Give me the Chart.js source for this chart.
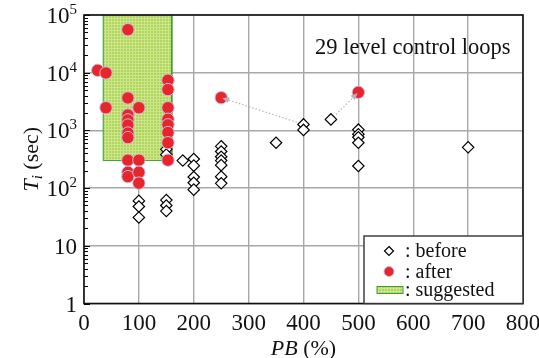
<!DOCTYPE html>
<html><head><meta charset="utf-8">
<script src="https://cdn.jsdelivr.net/npm/chart.js@4/dist/chart.umd.min.js"></script>
<style>html,body{margin:0;padding:0;background:#fff}#c{display:block}</style>
</head><body>
<canvas id="c" width="539" height="358"></canvas>
<script>
// ---- data (PB in %, Ti in sec) ----
const beforePB = [100,100,100, 150,150,150,150,150, 180, 200,200,200,200,200, 250,250,250,250,250,250,250, 350, 400,400, 450, 500,500,500,500,500, 700];
const beforeTi = [60,48,31, 470,380,62,50,40, 300, 320,245,156,124,94, 530,430,350,300,250,158,121, 612, 1270,1020, 1550, 1030,860,760,612,242, 509];
const afterPB = [25,40,40, 80,80,80,80,80,80,80,80,80,80, 100,100,100,100, 153,153,153,153,153,153,153,153, 250, 500];
const afterTi = [11000,9900,2470, 55600,3650,1850,1520,1240,900,750,305,188,158, 2470,305,188,122, 7400,5100,2470,1560,1250,920,612,305, 3690, 4570];
const link1PB = [400, 250];
const link1Ti = [1270, 3690];
const link2PB = [450, 500];
const link2Ti = [1550, 4570];
const suggestedPB = [35, 35, 160, 160, 35];
const suggestedTi = [300, 100000, 100000, 300, 300];
const xTicks = [0,100,200,300,400,500,600,700,800];
const yTicks = [1,10,100,1000,10000,100000];
const yBase = ['1','10','10','10','10','10'];
const ySup = ['','','2','3','4','5'];
const legendLabels = [': before', ': after', ': suggested'];
const noteText = '29 level control loops';

const SERIF = '"Liberation Serif","Times New Roman",serif';
const pts = (xs, ys) => xs.map((x, i) => ({x: x, y: ys[i]}));

function makePattern() {
  const c = document.createElement('canvas');
  c.width = 3; c.height = 3;
  const g = c.getContext('2d');
  g.fillStyle = 'rgba(168,209,72,0.9)';
  g.fillRect(0, 0, 3, 3);
  g.fillStyle = 'rgba(205,230,145,0.92)';
  g.fillRect(0, 0, 3, 1);
  g.fillRect(0, 0, 1, 3);
  return g.createPattern(c, 'repeat');
}
const greenPattern = makePattern();

function drawDiamond(ctx, x, y, r) {
  ctx.beginPath();
  ctx.moveTo(x, y - r); ctx.lineTo(x + r, y); ctx.lineTo(x, y + r); ctx.lineTo(x - r, y); ctx.closePath();
  ctx.fillStyle = '#fff'; ctx.fill();
  ctx.lineWidth = 1.2; ctx.strokeStyle = '#000'; ctx.stroke();
}

const decor = {
  id: 'decor',
  afterDatasetsDraw(chart) {
    const ctx = chart.ctx, xs = chart.scales.x, ys = chart.scales.y;
    [[link1PB, link1Ti], [link2PB, link2Ti]].forEach(([px, py]) => {
      const x0 = xs.getPixelForValue(px[0]), y0 = ys.getPixelForValue(py[0]);
      const x1 = xs.getPixelForValue(px[1]), y1 = ys.getPixelForValue(py[1]);
      const a = Math.atan2(y1 - y0, x1 - x0);
      const tx = x1 - Math.cos(a) * 1, ty = y1 - Math.sin(a) * 1;
      ctx.save();
      ctx.fillStyle = '#b5b5b5';
      ctx.beginPath();
      ctx.moveTo(tx, ty);
      ctx.lineTo(tx - Math.cos(a) * 7 + Math.sin(a) * 3, ty - Math.sin(a) * 7 - Math.cos(a) * 3);
      ctx.lineTo(tx - Math.cos(a) * 7 - Math.sin(a) * 3, ty - Math.sin(a) * 7 + Math.cos(a) * 3);
      ctx.closePath(); ctx.fill();
      ctx.restore();
    });
  },
  afterDraw(chart) {
    const ctx = chart.ctx, a = chart.chartArea, xs = chart.scales.x, ys = chart.scales.y;
    ctx.save();
    // minor ticks on y axis
    ctx.strokeStyle = '#000'; ctx.lineWidth = 1;
    for (let d = 0; d < 5; d++) {
      for (let m = 2; m <= 9; m++) {
        const y = Math.round(ys.getPixelForValue(m * Math.pow(10, d))) + 0.5;
        ctx.beginPath(); ctx.moveTo(a.left, y); ctx.lineTo(a.left + 4, y); ctx.stroke();
      }
    }
    yTicks.forEach(v => {
      const y = Math.round(ys.getPixelForValue(v)) + 0.5;
      ctx.beginPath(); ctx.moveTo(a.left, y); ctx.lineTo(a.left + 6, y); ctx.stroke();
    });
    // frame
    ctx.lineWidth = 1.6; ctx.strokeStyle = '#111';
    ctx.strokeRect(a.left, a.top, a.right - a.left, a.bottom - a.top);
    // x tick labels
    ctx.fillStyle = '#111';
    ctx.textBaseline = 'alphabetic';
    ctx.font = '23px ' + SERIF;
    ctx.textAlign = 'center';
    xTicks.forEach(v => { ctx.fillText(String(v), xs.getPixelForValue(v), 330); });
    // y tick labels with superscripts
    yTicks.forEach((v, i) => {
      const y = ys.getPixelForValue(v);
      const right = a.left - 7;
      ctx.font = '15px ' + SERIF;
      const sw = ySup[i] ? ctx.measureText(ySup[i]).width : 0;
      ctx.textAlign = 'right';
      if (ySup[i]) { ctx.fillText(ySup[i], right, y - 1); }
      ctx.font = '23px ' + SERIF;
      ctx.fillText(yBase[i], right - sw, y + 8);
    });
    // x title: PB (%)
    ctx.textAlign = 'left';
    ctx.font = 'italic 22px ' + SERIF;
    const w1 = ctx.measureText('PB').width;
    ctx.font = '22px ' + SERIF;
    const w2 = ctx.measureText(' (%)').width;
    const cx = (a.left + a.right) / 2;
    let sx = cx - (w1 + w2) / 2;
    ctx.font = 'italic 22px ' + SERIF; ctx.fillText('PB', sx, 355);
    ctx.font = '22px ' + SERIF; ctx.fillText(' (%)', sx + w1, 355);
    // y title: Ti (sec)
    ctx.save();
    ctx.translate(38, (a.top + a.bottom) / 2);
    ctx.rotate(-Math.PI / 2);
    ctx.font = 'italic 22px ' + SERIF; const t1 = ctx.measureText('T').width;
    ctx.font = 'italic 15px ' + SERIF; const t2 = ctx.measureText('i').width;
    ctx.font = '22px ' + SERIF; const t3 = ctx.measureText(' (sec)').width;
    let ox = -(t1 + t2 + t3) / 2;
    ctx.font = 'italic 22px ' + SERIF; ctx.fillText('T', ox, 0);
    ctx.font = 'italic 15px ' + SERIF; ctx.fillText('i', ox + t1, 4);
    ctx.font = '22px ' + SERIF; ctx.fillText(' (sec)', ox + t1 + t2, 0);
    ctx.restore();
    // note
    ctx.font = '22.5px ' + SERIF; ctx.fillStyle = '#111';
    ctx.fillText(noteText, 315, 54);
    // legend box
    const lx = 364, ly = 236, lw = a.right - lx, lh = a.bottom - ly;
    ctx.fillStyle = '#fff'; ctx.fillRect(lx, ly, lw, lh);
    ctx.lineWidth = 1.4; ctx.strokeStyle = '#333'; ctx.strokeRect(lx, ly, lw, lh);
    drawDiamond(ctx, 389, 251, 4.5);
    ctx.beginPath(); ctx.arc(389, 271.5, 5, 0, Math.PI * 2);
    ctx.fillStyle = '#e8252b'; ctx.fill();
    ctx.lineWidth = 1; ctx.strokeStyle = '#c9bde0'; ctx.stroke();
    ctx.fillStyle = greenPattern; ctx.fillRect(377, 286.5, 26, 7);
    ctx.lineWidth = 1; ctx.strokeStyle = '#3f9a3a'; ctx.strokeRect(377, 286.5, 26, 7);
    ctx.font = '20px ' + SERIF; ctx.fillStyle = '#111'; ctx.textAlign = 'left';
    ctx.fillText(legendLabels[0], 405, 257);
    ctx.fillText(legendLabels[1], 405, 277.5);
    ctx.fillText(legendLabels[2], 405, 296);
    ctx.restore();
  }
};

new Chart(document.getElementById('c'), {
  type: 'scatter',
  data: {
    datasets: [
      { label: 'after', data: pts(afterPB, afterTi), pointStyle: 'circle', pointRadius: 6.2,
        backgroundColor: '#e8252b', borderColor: '#c9bde0', borderWidth: 1, order: 0 },
      { label: 'before', data: pts(beforePB, beforeTi), pointStyle: 'rectRot', pointRadius: 5.7,
        backgroundColor: '#ffffff', borderColor: '#000000', borderWidth: 1.2, order: 1 },
      { type: 'line', label: 'link1', data: pts(link1PB, link1Ti), pointRadius: 0,
        borderColor: '#b5b5b5', borderWidth: 1.2, borderDash: [1.5, 2], fill: false, order: 2 },
      { type: 'line', label: 'link2', data: pts(link2PB, link2Ti), pointRadius: 0,
        borderColor: '#b5b5b5', borderWidth: 1.2, borderDash: [1.5, 2], fill: false, order: 2 },
      { type: 'line', label: 'suggested', data: pts(suggestedPB, suggestedTi), pointRadius: 0,
        borderColor: '#3f9a3a', borderWidth: 1, backgroundColor: greenPattern, fill: 'shape', tension: 0, order: 3 }
    ]
  },
  options: {
    responsive: false, animation: false, devicePixelRatio: 1,
    layout: { padding: { left: 0, right: 16, top: 15, bottom: 0 } },
    plugins: { legend: { display: false }, tooltip: { enabled: false } },
    scales: {
      x: {
        type: 'linear', min: 0, max: 800,
        afterBuildTicks: s => { s.ticks = xTicks.map(v => ({ value: v })); },
        afterFit: s => { s.height = 54.5; },
        ticks: { display: false },
        grid: { color: '#a8a8a8', lineWidth: 1.4, drawTicks: false },
        border: { display: false }
      },
      y: {
        type: 'logarithmic', min: 1, max: 100000,
        afterBuildTicks: s => { s.ticks = yTicks.map(v => ({ value: v })); },
        afterFit: s => { s.width = 84; },
        ticks: { display: false },
        grid: { color: '#a8a8a8', lineWidth: 1.4, drawTicks: false },
        border: { display: false }
      }
    }
  },
  plugins: [decor]
});
</script>
</body></html>
